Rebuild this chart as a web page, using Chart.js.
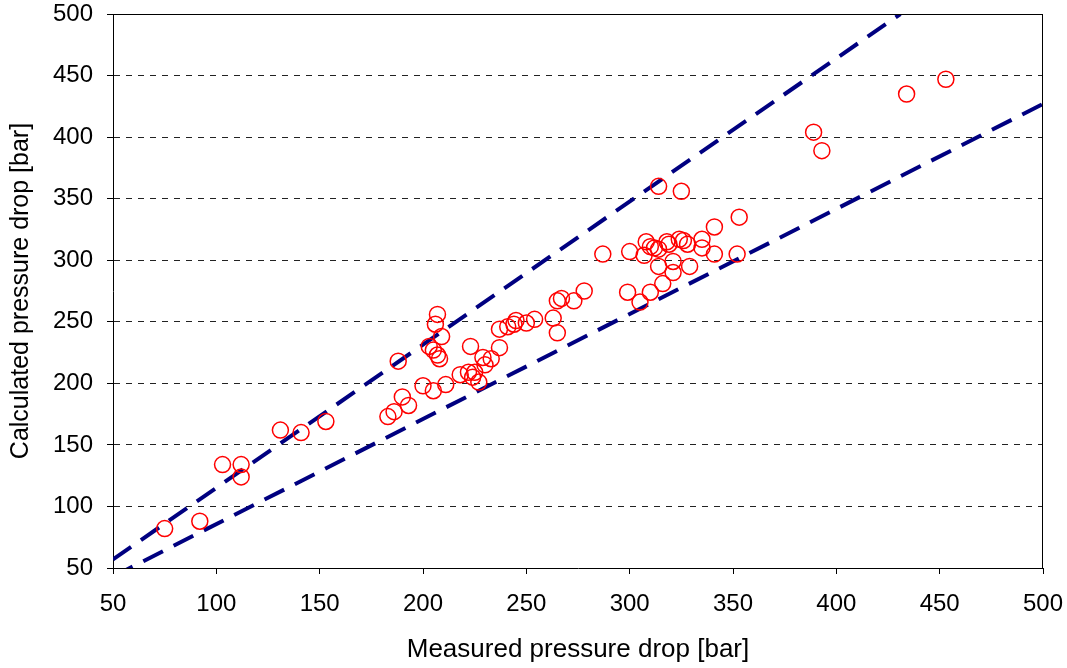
<!DOCTYPE html>
<html>
<head>
<meta charset="utf-8">
<script src="https://cdn.jsdelivr.net/npm/chart.js@4/dist/chart.umd.min.js"></script>
<style>
  html, body { margin: 0; padding: 0; background: #fff; }
  #wrap { width: 1067px; height: 668px; }
</style>
</head>
<body>
<div id="wrap"><canvas id="chart"></canvas></div>
<script>
// measured vs calculated pressure drop [bar]
const measured = [
  75, 92, 103, 112, 112, 131, 141, 153, 188, 183, 186, 190, 193, 200, 205,
  207, 206, 209, 203, 205, 207, 208, 223, 211, 218, 222, 224, 225, 227, 229,
  230, 233, 237, 237, 241, 244, 245, 250, 254, 263, 265, 265, 267, 273, 278,
  287, 300, 299, 305, 310, 316, 314, 321, 321, 329, 308, 307, 310, 312, 314,
  318, 319, 324, 326, 328, 335, 335, 341, 341, 314, 325, 353, 352, 389, 393,
  434, 453
];
const calculated = [
  82, 88, 134, 134, 124, 162, 160, 169, 218, 173, 177, 189, 182, 198, 194,
  256, 248, 238, 230, 227, 223, 220, 230, 199, 207, 209, 205, 209, 201, 221,
  215, 220, 229, 244, 246, 248, 251, 249, 252, 253, 241, 267, 269, 267, 275,
  305, 307, 274, 266, 274, 281, 295, 299, 290, 295, 315, 304, 311, 310, 309,
  315, 313, 317, 316, 313, 317, 310, 327, 305, 360, 356, 335, 305, 404, 389,
  435, 447
];
// error band lines (upper / lower)
const upperX = [50, 431];
const upperY = [57, 500];
const lowerX = [50, 500];
const lowerY = [43, 427];
const ticksX = [50, 100, 150, 200, 250, 300, 350, 400, 450, 500];
const ticksY = [50, 100, 150, 200, 250, 300, 350, 400, 450, 500];

const FONT = '"Liberation Sans", Arial, sans-serif';

const zip = (xs, ys) => xs.map((x, i) => ({ x, y: ys[i] }));

const frame = {
  id: 'frame',
  afterDatasetsDraw(chart) {
    const { ctx, chartArea: a } = chart;
    ctx.save();
    ctx.strokeStyle = '#000';
    ctx.lineWidth = 1;
    ctx.beginPath();
    ctx.moveTo(a.left, a.top + 0.5);
    ctx.lineTo(a.right, a.top + 0.5);
    ctx.moveTo(a.right - 0.5, a.top);
    ctx.lineTo(a.right - 0.5, a.bottom);
    ctx.stroke();
    ctx.restore();
  }
};

const bandLine = (xs, ys) => ({
  type: 'line',
  data: zip(xs, ys),
  borderColor: '#000080',
  borderWidth: 4,
  borderDash: [22, 12],
  pointRadius: 0,
  fill: false,
  order: 2
});

new Chart(document.getElementById('chart').getContext('2d'), {
  type: 'scatter',
  data: {
    datasets: [
      {
        data: zip(measured, calculated),
        borderColor: '#ff0000',
        backgroundColor: 'rgba(0,0,0,0)',
        borderWidth: 1.5,
        pointRadius: 8,
        pointStyle: 'circle',
        order: 1
      },
      bandLine(upperX, upperY),
      bandLine(lowerX, lowerY)
    ]
  },
  options: {
    responsive: true,
    maintainAspectRatio: false,
    animation: false,
    layout: { padding: { top: 14, right: 24, left: 0, bottom: 0 } },
    plugins: { legend: { display: false }, tooltip: { enabled: false } },
    scales: {
      x: {
        type: 'linear',
        min: 50, max: 500,
        afterBuildTicks: s => { s.ticks = ticksX.map(v => ({ value: v })); },
        afterFit: s => { s.height = 100; s.paddingLeft = 0; s.paddingRight = 0; },
        ticks: { font: { family: FONT, size: 24 }, color: '#000', padding: 16, maxRotation: 0 },
        grid: { drawOnChartArea: false, drawTicks: true, tickLength: 6, color: '#000' },
        border: { color: '#000', width: 1 },
        title: {
          display: true,
          text: 'Measured pressure drop [bar]',
          font: { family: FONT, size: 26 },
          color: '#000',
          padding: { top: 0, bottom: 3 }
        }
      },
      y: {
        type: 'linear',
        min: 50, max: 500,
        afterBuildTicks: s => { s.ticks = ticksY.map(v => ({ value: v })); },
        afterFit: s => { s.width = 113; s.paddingTop = 0; s.paddingBottom = 0; },
        ticks: { font: { family: FONT, size: 24 }, color: '#000', padding: 14 },
        grid: { drawTicks: true, tickLength: 6, color: '#222', lineWidth: 1, tickColor: '#000' },
        border: { color: '#000', width: 1, dash: [6, 6] },
        title: {
          display: true,
          text: 'Calculated pressure drop [bar]',
          font: { family: FONT, size: 25 },
          color: '#000',
          padding: { top: 6, bottom: 0 }
        }
      }
    }
  },
  plugins: [frame]
});
</script>
</body>
</html>
